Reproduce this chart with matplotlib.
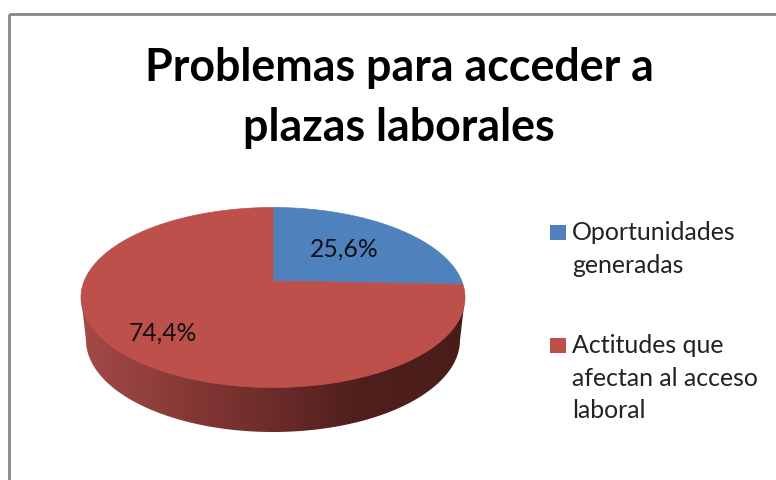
"""Problemas para acceder a plazas laborales: 3D-looking pie drawn in pixel coords."""
import numpy as np
import matplotlib
matplotlib.use("Agg")
import matplotlib.pyplot as plt
from matplotlib.colors import LinearSegmentedColormap
from matplotlib.patches import Polygon, Rectangle

plt.rcParams["font.family"] = ["Lato", "DejaVu Sans"]

title = "Problemas para acceder a\nplazas laborales"
categories = ["Oportunidades\ngeneradas", "Actitudes que\nafectan al acceso\nlaboral"]
values = [25.6, 74.4]
value_labels = ["25,6%", "74,4%"]
colors = ["#4F81BD", "#BE504C"]

# top face of the pie, in pixels
cx, cy, rx, ry = 273, 297.5, 192, 90
tilt = 0.183  # pie centre sits above the ellipse centre


def project(frac):
    # frac is the share of the circle, clockwise from 12 o'clock
    ang = 2 * np.pi * np.asarray(frac)
    x, y = np.sin(ang), np.cos(ang)
    d = 1 + tilt * y
    xp = x * np.sqrt(1 - tilt ** 2) / d
    yp = (y + tilt) / d
    return cx + rx * xp, cy - ry * yp


fig = plt.figure(figsize=(7.76, 4.8), dpi=100)
ax = fig.add_axes([0, 0, 1, 1])
ax.axis("off")

# side of the pie with its shading
t = np.linspace(np.pi, 0, 200)
side_x = np.r_[cx - rx, 273 + 187 * np.cos(t), cx + rx]
side_y = np.r_[cy, 340 + 92 * np.sin(t), cy]
side = Polygon(np.c_[side_x, side_y], closed=True, fc="none", ec="none")
ax.add_patch(side)
cmap = LinearSegmentedColormap.from_list(
    "side", [(0, "#A34A47"), (0.35, "#7E3432"), (0.72, "#501F1D"), (1, "#491C1A")]
)
img = ax.imshow(np.linspace(0, 1, 256)[None, :], cmap=cmap, aspect="auto",
                extent=(cx - rx, cx + rx, 440, cy), zorder=1)
img.set_clip_path(side)

# top face, one wedge per value
start = 0
for val, col in zip(values, colors):
    frac = np.linspace(start, start + val / sum(values), 200)
    px, py = project(frac)
    apex = project(0)[0], cy - ry * tilt
    ax.add_patch(Polygon(np.c_[np.r_[apex[0], px], np.r_[apex[1], py]], closed=True,
                         fc=col, ec=col, lw=0.5, zorder=2))
    start += val / sum(values)

ax.text(344.5, 249, value_labels[0], fontsize=17.8, color="#111111", ha="center", va="center", zorder=3)
ax.text(162.5, 333, value_labels[1], fontsize=17.8, color="#111111", ha="center", va="center", zorder=3)

ax.text(399, 98, title, fontsize=32.2, fontweight="bold", color="black",
        ha="center", va="center", linespacing=1.53)

# legend
for cat, col, y in zip(categories, colors, [232.5, 345]):
    ax.add_patch(Rectangle((550, y - 7.5), 15.5, 15, fc=col, ec="none"))
    ax.text(572, y - 11, cat, fontsize=17.9, color="#222222", ha="left", va="top", linespacing=1.5)

# chart frame, runs off the canvas
ax.add_patch(Rectangle((9, 14), 800, 500, fc="none", ec="#868686", lw=2))

ax.set_xlim(0, 776)
ax.set_ylim(480, 0)
fig.savefig("out.png", dpi=100, facecolor="white")
